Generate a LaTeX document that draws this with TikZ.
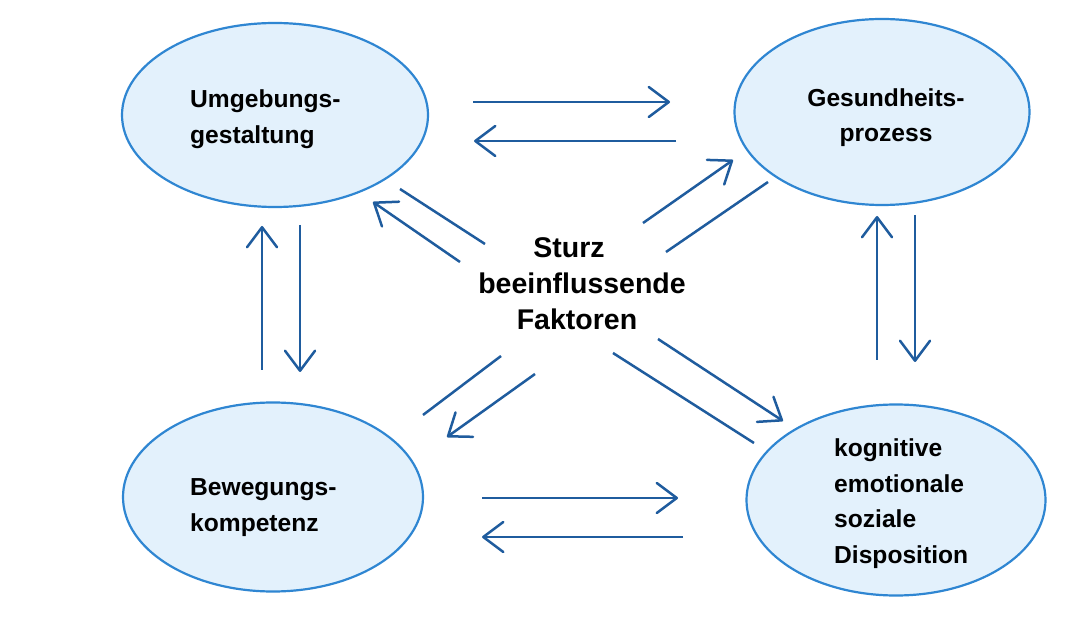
\documentclass[tikz,border=0pt]{standalone}
\usepackage{fontspec}
\setmainfont{Liberation Sans}
\usetikzlibrary{shapes.geometric,arrows.meta}
\definecolor{ellstroke}{RGB}{47,134,210}
\definecolor{ellfill}{RGB}{227,241,252}
\definecolor{arrblue}{RGB}{31,92,158}
\begin{document}
\begin{tikzpicture}[x=1pt,y=-1pt,
  bubble/.style={ellipse,draw=ellstroke,fill=ellfill,line width=2.2pt,inner sep=0pt},
  btext/.style={inner sep=0pt,font=\bfseries\fontsize{24.6}{35.7}\selectfont,text=black},
  ctext/.style={inner sep=0pt,align=center,font=\bfseries\fontsize{28.5}{36}\selectfont},
  flow/.style={draw=arrblue,line width=2.5pt,-{Straight Barb[length=20pt,width=30pt,round]}},
  plain/.style={draw=arrblue,line width=2.5pt}]
\useasboundingbox (0,0) rectangle (1071,617);
\fill[white] (0,0) rectangle (1071,617);
% ellipses
\node[bubble,minimum width=306pt,minimum height=184pt] (tl) at (275,115) {};
\node[bubble,minimum width=295pt,minimum height=186pt] (tr) at (882,112) {};
\node[bubble,minimum width=300pt,minimum height=189pt] (bl) at (273,497) {};
\node[bubble,minimum width=299pt,minimum height=191pt] (br) at (896,500) {};
% texts
\node[btext,align=left,anchor=west] (tlt) at (190,119.5) {Umgebungs-\\gestaltung};
\node[btext,align=center] (trt) at (886,117.5) {Gesundheits-\\prozess};
\node[btext,align=left,anchor=west] (blt) at (190,507.6) {Bewegungs-\\kompetenz};
\node[btext,align=left,anchor=west] (brt) at (834,503.5) {kognitive\\emotionale\\soziale\\Disposition};
\node[ctext] (c) at (582,283.7) {Sturz\hspace*{26pt}\\beeinflussende\\Faktoren\hspace*{10pt}};
% coordinates for connector ends
\coordinate (h1a) at (473,102); \coordinate (h1b) at (670,102);
\coordinate (h2a) at (676,141); \coordinate (h2b) at (474,141);
\coordinate (h3a) at (482,498); \coordinate (h3b) at (678,498);
\coordinate (h4a) at (683,537); \coordinate (h4b) at (482,537);
\coordinate (v1a) at (262,370); \coordinate (v1b) at (262,226);
\coordinate (v2a) at (300,225); \coordinate (v2b) at (300,372);
\coordinate (v3a) at (877,360); \coordinate (v3b) at (877,216);
\coordinate (v4a) at (915,215); \coordinate (v4b) at (915,362);
\coordinate (d1a) at (400,189); \coordinate (d1b) at (485,244);
\coordinate (d2a) at (460,262); \coordinate (d2b) at (373,202);
\coordinate (d3a) at (643,223); \coordinate (d3b) at (733,160);
\coordinate (d4a) at (666,252); \coordinate (d4b) at (768,182);
\coordinate (d5a) at (501,356); \coordinate (d5b) at (423,415);
\coordinate (d6a) at (535,374); \coordinate (d6b) at (447,437);
\coordinate (d7a) at (658,339); \coordinate (d7b) at (783,421);
\coordinate (d8a) at (613,353); \coordinate (d8b) at (754,443);
% horizontal arrows
\draw[flow] (h1a) -- (h1b);
\draw[flow] (h2a) -- (h2b);
\draw[flow] (h3a) -- (h3b);
\draw[flow] (h4a) -- (h4b);
% vertical arrows
\draw[flow] (v1a) -- (v1b);
\draw[flow] (v2a) -- (v2b);
\draw[flow] (v3a) -- (v3b);
\draw[flow] (v4a) -- (v4b);
% diagonal lines and arrows
\draw[plain] (d1a) -- (d1b);
\draw[flow] (d2a) -- (d2b);
\draw[flow] (d3a) -- (d3b);
\draw[plain] (d4a) -- (d4b);
\draw[plain] (d5a) -- (d5b);
\draw[flow] (d6a) -- (d6b);
\draw[flow] (d7a) -- (d7b);
\draw[plain] (d8a) -- (d8b);
\end{tikzpicture}
\end{document}
